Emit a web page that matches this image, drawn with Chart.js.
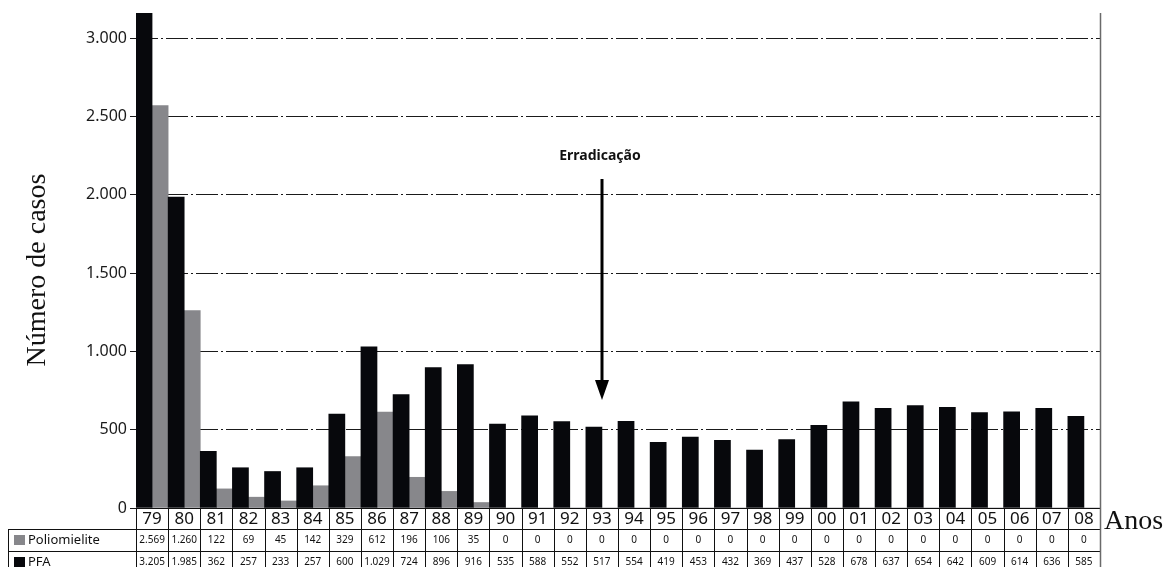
<!DOCTYPE html>
<html>
<head>
<meta charset="utf-8">
<script src="https://cdn.jsdelivr.net/npm/chart.js@4.4.1/dist/chart.umd.min.js"></script>
<style>
  html, body { margin: 0; padding: 0; background: #fff; }
  canvas { display: block; }
</style>
</head>
<body>
<canvas id="c" width="1170" height="567"></canvas>
<script>
const anos = ['79','80','81','82','83','84','85','86','87','88','89','90','91','92','93',
  '94','95','96','97','98','99','00','01','02','03','04','05','06','07','08']
const polio = [2569, 1260, 122, 69, 45, 142, 329, 612, 196, 106, 35, 0, 0, 0, 0,
  0, 0, 0, 0, 0, 0, 0, 0, 0, 0, 0, 0, 0, 0, 0]
const pfa = [3205, 1985, 362, 257, 233, 257, 600, 1029, 724, 896, 916, 535, 588, 552, 517,
  554, 419, 453, 432, 369, 437, 528, 678, 637, 654, 642, 609, 614, 636, 585]
const yTicks = [0, 500, 1000, 1500, 2000, 2500, 3000]
const yMax = 3160
const marcoAno = '93'

const SANS = '"Noto Sans", "Open Sans", sans-serif'
const SERIF = '"Liberation Serif", "DejaVu Serif", serif'
const PRETO = '#07080c'
const CINZA = '#87878b'

// 1.234 -> "1.234"
const fmt = v => String(v).replace(/\B(?=(\d{3})+(?!\d))/g, '.')

// table under the chart + titles + arrow
const extras = {
  id: 'extras',
  afterDraw(chart) {
    const ctx = chart.ctx
    const xs = chart.scales.x
    const ys = chart.scales.y
    const a = chart.chartArea
    const w = (a.right - a.left) / anos.length
    const r0 = Math.round(a.bottom), r1 = r0 + 21, r2 = r1 + 22, r3 = 567

    ctx.save()
    ctx.strokeStyle = '#111'
    ctx.lineWidth = 1
    ctx.beginPath()
    ctx.moveTo(a.left, r0 + 0.5); ctx.lineTo(a.right, r0 + 0.5)
    ctx.moveTo(8, r1 + 0.5); ctx.lineTo(a.right, r1 + 0.5)
    ctx.moveTo(8, r2 + 0.5); ctx.lineTo(a.right, r2 + 0.5)
    ctx.moveTo(8.5, r1); ctx.lineTo(8.5, r3)
    for (let i = 0; i < anos.length; i++) {
      const bx = Math.round(xs.getPixelForValue(i) - w / 2) + 0.5
      ctx.moveTo(bx, r0); ctx.lineTo(bx, r3)
    }
    ctx.stroke()

    // right border
    ctx.strokeStyle = '#6a6a6a'
    ctx.lineWidth = 1.5
    ctx.beginPath()
    ctx.moveTo(Math.round(a.right) + 0.5, a.top); ctx.lineTo(Math.round(a.right) + 0.5, r3)
    ctx.stroke()

    // years + values
    ctx.fillStyle = '#111'
    ctx.textAlign = 'center'
    ctx.textBaseline = 'middle'
    anos.forEach((ano, i) => {
      const cx = xs.getPixelForValue(i)
      ctx.font = '17px ' + SANS
      ctx.fillText(ano, cx, r0 + 11)
      ctx.font = '10px ' + SANS
      ctx.fillText(fmt(polio[i]), cx, r1 + 11.5)
      ctx.fillText(fmt(pfa[i]), cx, r2 + 11.5)
    })

    // legend squares in the table
    ctx.fillStyle = CINZA
    ctx.fillRect(14, r1 + 6, 11, 10)
    ctx.fillStyle = PRETO
    ctx.fillRect(14, r2 + 6, 11, 10)
    ctx.fillStyle = '#111'
    ctx.textAlign = 'left'
    ctx.font = '13px ' + SANS
    ctx.fillText('Poliomielite', 28, r1 + 11)
    ctx.fillText('PFA', 28, r2 + 11)

    // Anos
    ctx.textBaseline = 'alphabetic'
    ctx.font = '28px ' + SERIF
    ctx.fillText('Anos', a.right + 4, r0 + 21)

    // y title
    ctx.save()
    ctx.translate(45, 270)
    ctx.rotate(-Math.PI / 2)
    ctx.textAlign = 'center'
    ctx.fillText('Número de casos', 0, 0)
    ctx.restore()

    // Erradicacao + arrow
    const ax = Math.round(xs.getPixelForValue(anos.indexOf(marcoAno)))
    ctx.textAlign = 'center'
    ctx.font = 'bold 14px ' + SANS
    ctx.fillText('Erradicação', ax - 2, 160)
    const tip = ys.getPixelForValue(690)
    ctx.strokeStyle = '#000'
    ctx.lineWidth = 3
    ctx.beginPath()
    ctx.moveTo(ax, 179); ctx.lineTo(ax, tip - 16)
    ctx.stroke()
    ctx.fillStyle = '#000'
    ctx.beginPath()
    ctx.moveTo(ax - 7, tip - 20); ctx.lineTo(ax + 7, tip - 20); ctx.lineTo(ax, tip)
    ctx.closePath()
    ctx.fill()
    ctx.restore()
  }
}

new Chart(document.getElementById('c'), {
  type: 'bar',
  data: {
    labels: anos,
    datasets: [
      { label: 'PFA', data: pfa, backgroundColor: PRETO, borderWidth: 0 },
      { label: 'Poliomielite', data: polio, backgroundColor: CINZA, borderWidth: 0 }
    ]
  },
  options: {
    responsive: false,
    animation: false,
    layout: { padding: { top: 13, right: 70, bottom: 59, left: 0 } },
    datasets: { bar: { categoryPercentage: 1, barPercentage: 1 } },
    plugins: { legend: { display: false }, tooltip: { enabled: false } },
    scales: {
      x: { display: false },
      y: {
        min: 0,
        max: yMax,
        afterFit(s) { s.width = 136 },
        afterBuildTicks(s) { s.ticks = yTicks.map(v => ({ value: v })) },
        grid: { color: '#1a1a1a', lineWidth: 1, tickLength: 6, tickColor: '#1a1a1a' },
        border: { display: false, dash: [22, 3, 2, 3] },
        ticks: {
          padding: 3,
          color: '#1a1a1a',
          font: { family: SANS, size: 16 },
          callback: v => fmt(v)
        }
      }
    }
  },
  plugins: [extras]
})
</script>
</body>
</html>
